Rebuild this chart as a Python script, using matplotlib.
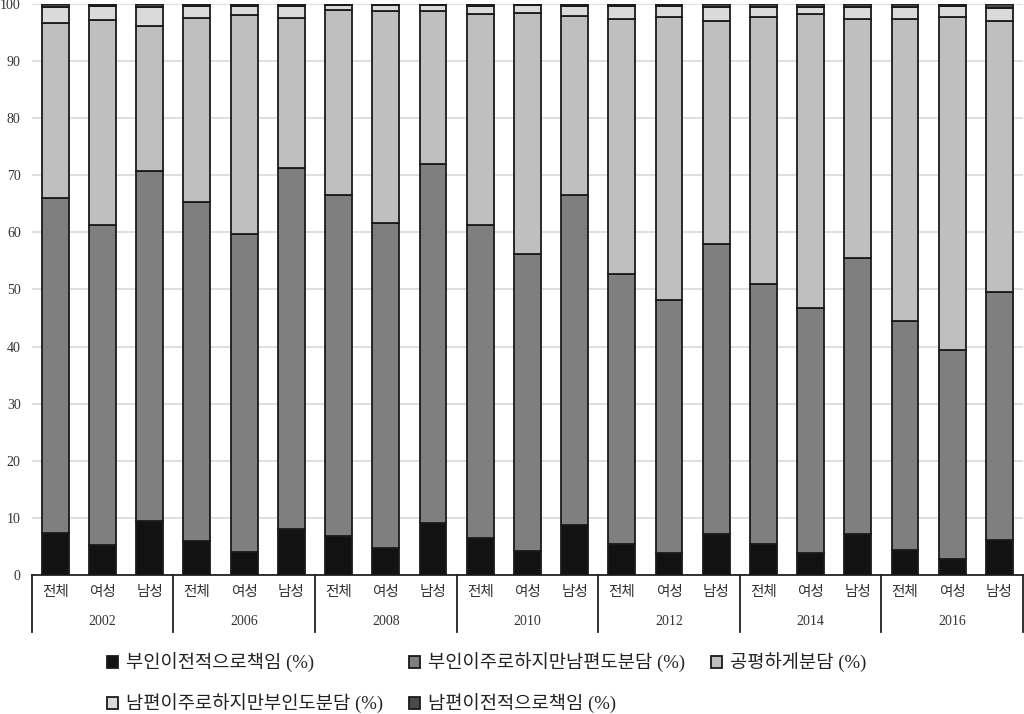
import numpy as np
import matplotlib
matplotlib.use("Agg")
import matplotlib.pyplot as plt
import matplotlib.transforms as mtransforms

plt.rcParams['font.family'] = ['Liberation Serif', 'Noto Sans CJK KR']

years = ['2002', '2006', '2008', '2010', '2012', '2014', '2016']
groups = ['전체', '여성', '남성']

series_names = ['부인이전적으로책임 (%)', '부인이주로하지만남편도분담 (%)', '공평하게분담 (%)',
                '남편이주로하지만부인도분담 (%)', '남편이전적으로책임 (%)']

# values per bar, order: year x (전체, 여성, 남성)
wife_all = [7.3, 5.2, 9.5, 6.0, 4.0, 8.1, 6.8, 4.7, 9.1, 6.5, 4.2, 8.8,
            5.5, 3.8, 7.2, 5.5, 3.8, 7.2, 4.3, 2.8, 6.1]
wife_mostly = [58.7, 56.1, 61.3, 59.3, 55.8, 63.2, 59.8, 56.9, 62.8, 54.8, 52.1, 57.8,
               47.3, 44.3, 50.7, 45.5, 42.9, 48.3, 40.1, 36.6, 43.4]
equal = [30.6, 35.9, 25.3, 32.3, 38.3, 26.2, 32.3, 37.2, 26.9, 36.9, 42.2, 31.3,
         44.6, 49.7, 39.2, 46.7, 51.5, 41.9, 53.0, 58.4, 47.5]
husband_mostly = [2.9, 2.4, 3.3, 2.1, 1.6, 2.1, 0.9, 1.0, 1.0, 1.5, 1.3, 1.7,
                  2.3, 1.9, 2.4, 1.8, 1.3, 2.1, 2.1, 1.8, 2.3]
husband_all = [0.5, 0.4, 0.6, 0.3, 0.3, 0.4, 0.2, 0.2, 0.2, 0.3, 0.2, 0.4,
               0.3, 0.3, 0.5, 0.5, 0.5, 0.5, 0.5, 0.4, 0.7]

colors = ['#121212', '#7f7f7f', '#bfbfbf', '#dadada', '#4a4a4a']

fig = plt.figure(figsize=(10.24, 7.14), dpi=100)
ax = fig.add_axes([0.031, 0.1947, 0.968, 0.7997])

x = np.arange(len(wife_all))
bottom = np.zeros(len(x))
for name, vals, c in zip(series_names,
                         [wife_all, wife_mostly, equal, husband_mostly, husband_all],
                         colors):
    ax.bar(x, vals, 0.57, bottom=bottom, color=c, edgecolor='#1a1a1a',
           linewidth=1.3, label=name, zorder=3)
    bottom += np.array(vals)

ax.set_ylim(0, 100)
ax.set_xlim(-0.5, len(x) - 0.5)
ax.set_yticks(np.arange(0, 101, 10))
ax.tick_params(axis='y', length=0, labelsize=10, colors='#333333', pad=8)
ax.set_xticks([])
ax.yaxis.grid(True, color='#d9d9d9', linewidth=1.2, zorder=0)
for s in ['left', 'right', 'top']:
    ax.spines[s].set_visible(False)
ax.spines['bottom'].set_color('#222222')
ax.spines['bottom'].set_linewidth(1.3)

# multi-level category axis
trans = mtransforms.blended_transform_factory(ax.transData, ax.transAxes)
for i in range(len(x)):
    ax.text(i, -0.031, groups[i % 3], transform=trans, ha='center', va='center',
            fontsize=10.5, color='#333333')
for j, yr in enumerate(years):
    ax.text(3 * j + 1, -0.081, yr, transform=trans, ha='center', va='center',
            fontsize=10, color='#333333')
for b in np.arange(-0.5, len(x), 3):
    ax.plot([b, b], [0, -0.1], transform=trans, color='#222222', linewidth=1.3,
            clip_on=False)

# legend filled row by row (matplotlib fills columns first)
handles, labels = ax.get_legend_handles_labels()
order = [0, 3, 1, 4, 2]
fig.legend([handles[i] for i in order], [labels[i] for i in order],
           loc='upper left', bbox_to_anchor=(0.088, 0.109), ncol=3, frameon=False,
           fontsize=13.5, handlelength=0.6, handleheight=0.6, handletextpad=0.4,
           columnspacing=1.4, labelspacing=1.1, labelcolor='#222222')

fig.savefig('out.png', dpi=100)
